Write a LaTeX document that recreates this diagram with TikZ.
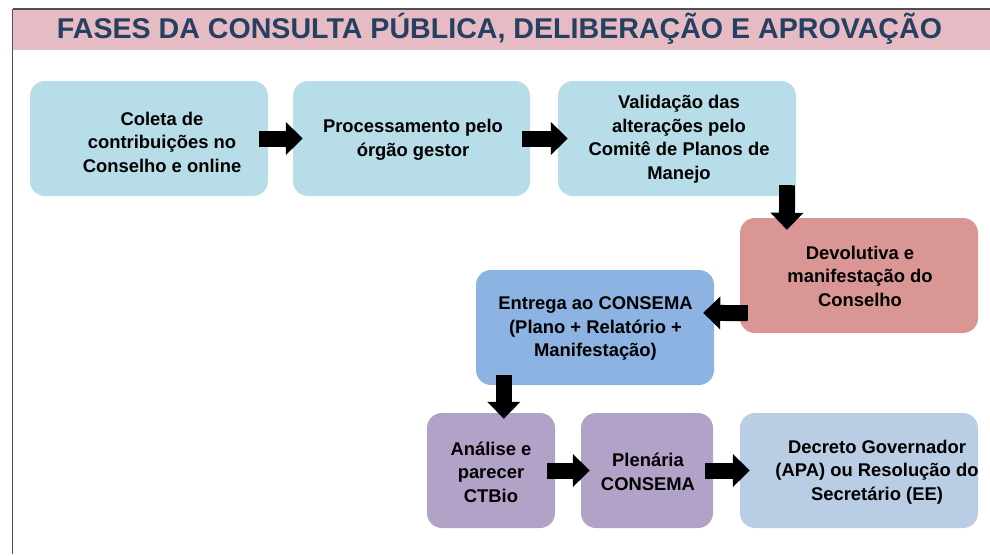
\documentclass[tikz,border=0pt]{standalone}
\usepackage{fontspec}
\setmainfont{Liberation Sans}
\usetikzlibrary{arrows.meta,calc}
\definecolor{frameline}{RGB}{80,80,80}
\definecolor{headpink}{RGB}{230,187,196}
\definecolor{headtext}{RGB}{38,64,97}
\definecolor{lightblue}{RGB}{183,221,232}
\definecolor{rosebox}{RGB}{217,150,148}
\definecolor{midblue}{RGB}{141,179,226}
\definecolor{lilac}{RGB}{178,162,199}
\definecolor{paleblue}{RGB}{185,205,229}
\begin{document}
\begin{tikzpicture}[x=1pt,y=-1pt,
  stepbox/.style={rectangle, rounded corners=15pt, inner sep=0pt, draw=none, minimum height=115pt},
  lbl/.style={font=\fontsize{18.4}{23.5}\selectfont\bfseries, align=center, inner sep=0pt, text=black},
  blk/.style={line width=16pt, line cap=butt, black, -{Triangle[width=32pt,length=17pt]}}]
\useasboundingbox (0,0) rectangle (990,555);
% frame and header
\fill[headpink] (13,10) rectangle (990,50);
\draw[frameline, line width=1.2pt] (12.5,9) -- (990,9);
\draw[frameline, line width=1.2pt] (12.5,9) -- (12.5,554);
\node[anchor=base, inner sep=0pt, text=headtext, font=\fontsize{28.6}{30}\selectfont\bfseries] (title) at (499.5,38.3)
  {FASES DA CONSULTA PÚBLICA, DELIBERAÇÃO E APROVAÇÃO};
% boxes
\node[stepbox, fill=lightblue, minimum width=238pt] (c1) at (149,138.5) {};
\node[stepbox, fill=lightblue, minimum width=237pt] (c2) at (411.5,138.5) {};
\node[stepbox, fill=lightblue, minimum width=238pt] (c3) at (677,138.5) {};
\node[stepbox, fill=rosebox, minimum width=238pt] (c4) at (859,275.5) {};
\node[stepbox, fill=midblue, minimum width=238pt] (c5) at (595,327.5) {};
\node[stepbox, fill=lilac, minimum width=128pt] (c6) at (491,470.5) {};
\node[stepbox, fill=lilac, minimum width=132pt] (c7) at (647,470.5) {};
\node[stepbox, fill=paleblue, minimum width=238pt] (c8) at (859,470.5) {};
% labels
\node[lbl] (t1) at (162,142) {Coleta de\\contribuições no\\Conselho e online};
\node[lbl] (t2) at (413,140) {Processamento pelo\\órgão gestor};
\node[lbl] (t3) at (679,139) {Validação das\\alterações pelo\\Comitê de Planos de\\Manejo};
\node[lbl] (t4) at (860,276) {Devolutiva e\\manifestação do\\Conselho};
\node[lbl] (t5) at (595.5,328.5) {Entrega ao CONSEMA\\(Plano + Relatório +\\Manifestação)};
\node[lbl] (t6) at (491,472) {Análise e\\parecer\\CTBio};
\node[lbl] (t7) at (648,472) {Plenária\\CONSEMA};
\node[lbl] (t8) at (877,472) {Decreto Governador\\(APA) ou Resolução do\\Secretário (EE)};
% block arrows
\draw[blk] ([xshift=-9pt]c1.east) -- ([xshift=10pt]c2.west);
\draw[blk] ([xshift=-8pt]c2.east) -- ([xshift=10pt]c3.west);
\draw[blk] ($(c3.south east)+(-9,-11)$) -- ($(c4.north west)+(47,12)$);
\draw[blk] ($(c4.south west)+(8,-20)$) -- ($(c5.north east)+(-11,43)$);
\draw[blk] ($(c5.south west)+(28,-10)$) -- ($(c6.north west)+(77,6)$);
\draw[blk] ([xshift=-8pt]c6.east) -- ([xshift=9pt]c7.west);
\draw[blk] ([xshift=-8pt]c7.east) -- ([xshift=10pt]c8.west);
\end{tikzpicture}
\end{document}
